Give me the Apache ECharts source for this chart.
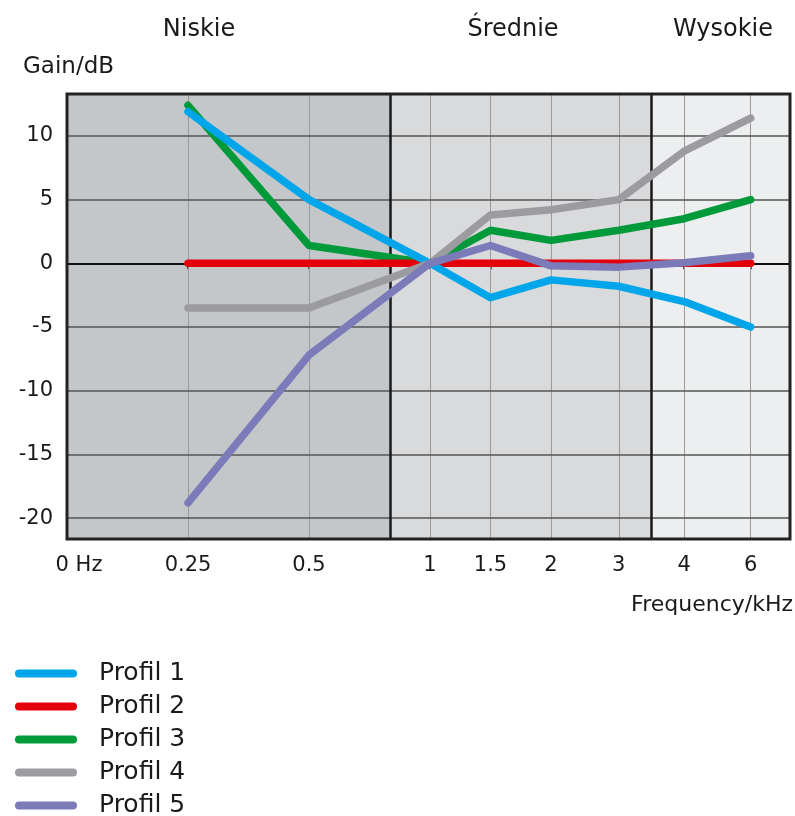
<!DOCTYPE html>
<html>
<head>
<meta charset="utf-8">
<script src="https://cdn.jsdelivr.net/npm/echarts@6/dist/echarts.min.js"></script>
<style>
  html, body { margin: 0; padding: 0; background: #fff; }
  #chart { width: 795px; height: 816px; }
</style>
</head>
<body>
<div id="chart"></div>
<script>
// frequency ticks (kHz) and where they sit on the (non-uniform) x scale
const freqLabels = ["0 Hz", "0.25", "0.5", "1", "1.5", "2", "3", "4", "6"];
const freqPos = [0, 2, 4, 6, 7, 8, 9.12, 10.2, 11.3];
const yTicks = [-20, -15, -10, -5, 0, 5, 10];

// frequency bands
const bandNames = ["Niskie", "Średnie", "Wysokie"];
const bandEdges = [0, 5.34, 9.66, 11.95];
const bandColors = ["#c4c7ca", "#d9dadc", "#eceeef"];

// gain in dB at 0.25 .. 6 kHz
const profil1 = [11.9, 5.0, 0, -2.7, -1.3, -1.8, -3.0, -5.0];
const profil2 = [0, 0, 0, 0, 0, 0, 0, 0];
const profil3 = [12.4, 1.4, 0, 2.6, 1.8, 2.6, 3.5, 5.0];
const profil4 = [-3.5, -3.5, 0, 3.8, 4.2, 5.0, 8.8, 11.4];
const profil5 = [-18.8, -7.2, 0, 1.4, -0.2, -0.3, 0.05, 0.6];

const profiles = [
  { name: "Profil 1", data: profil1, color: "#00a6e9", z: 5 },
  { name: "Profil 2", data: profil2, color: "#e3000b", z: 4 },
  { name: "Profil 3", data: profil3, color: "#009a3b", z: 3 },
  { name: "Profil 4", data: profil4, color: "#9c9b9f", z: 6 },
  { name: "Profil 5", data: profil5, color: "#7b7bb9", z: 7 }
];

const font = "DejaVu Sans";
const txt = "#1a1a1a";
const xPts = freqPos.slice(1);

const chart = echarts.init(document.getElementById("chart"));

const bgSeries = {
  name: "bg",
  type: "line",
  data: [],
  silent: true,
  z: 1,
  markArea: {
    silent: true,
    z: 0,
    data: bandColors.map((c, i) => [
      { xAxis: bandEdges[i], yAxis: -21.64, itemStyle: { color: c } },
      { xAxis: bandEdges[i + 1], yAxis: 13.29 }
    ])
  },
  markLine: {
    silent: true,
    z: 1,
    symbol: "none",
    label: { show: false },
    data: [
      ...xPts.map(p => ({ xAxis: p, lineStyle: { color: "#9a9a9a", width: 1, type: "solid" } })),
      ...yTicks.map(v => ({
        yAxis: v,
        lineStyle: { color: v === 0 ? "#111" : "#555", width: v === 0 ? 2 : 1.5, type: "solid" }
      })),
      ...bandEdges.slice(1, 3).map(e => ({ xAxis: e, lineStyle: { color: "#1a1a1a", width: 2.5, type: "solid" } }))
    ]
  }
};

const option = {
  backgroundColor: "#fff",
  animation: false,
  grid: {
    left: 67, top: 94, right: 5, bottom: 277,
    show: true, borderColor: "#222", borderWidth: 3,
    backgroundColor: "transparent", z: 8
  },
  xAxis: {
    type: "value",
    min: 0,
    max: 11.95,
    splitLine: { show: false },
    axisLine: { show: false },
    axisTick: {
      show: true, customValues: xPts, length: 6, inside: false,
      lineStyle: { color: "#222", width: 1.5 }
    },
    axisLabel: {
      customValues: freqPos,
      margin: 16,
      color: txt,
      fontFamily: font,
      fontSize: 21,
      formatter: v => {
        const i = freqPos.indexOf(v);
        if (i === 0) return "{z|" + freqLabels[0] + "}";
        return i >= 0 ? freqLabels[i] : "";
      },
      rich: { z: { fontFamily: font, fontSize: 21, color: txt, padding: [0, 0, 0, 24] } }
    }
  },
  yAxis: {
    type: "value",
    min: -21.64,
    max: 13.29,
    splitLine: { show: false },
    axisLine: { show: false },
    axisTick: { show: false },
    axisLabel: {
      customValues: yTicks,
      margin: 14,
      color: txt,
      fontFamily: font,
      fontSize: 21
    }
  },
  legend: {
    data: profiles.map(p => p.name),
    orient: "vertical",
    left: 15,
    top: 661,
    height: 200,
    padding: 0,
    itemWidth: 62,
    itemHeight: 8,
    itemGap: 8,
    icon: "path://M4,0 H58 A4,4 0 0 1 58,8 H4 A4,4 0 0 1 4,0 Z",
    textStyle: { fontFamily: font, fontSize: 25, color: txt, lineHeight: 24, padding: [0, 0, 0, 17] }
  },
  graphic: [
    ...bandNames.map((n, i) => ({
      type: "text",
      x: [199, 513, 723][i],
      y: 30,
      style: { text: n, fill: txt, font: "24px '" + font + "'", textAlign: "center", textVerticalAlign: "middle" }
    })),
    {
      type: "text", x: 23, y: 67,
      style: { text: "Gain/dB", fill: txt, font: "23px '" + font + "'", textAlign: "left", textVerticalAlign: "middle" }
    },
    {
      type: "text", x: 793, y: 605,
      style: { text: "Frequency/kHz", fill: txt, font: "22px '" + font + "'", textAlign: "right", textVerticalAlign: "middle" }
    }
  ],
  series: [bgSeries].concat(profiles.map(p => ({
    name: p.name,
    type: "line",
    color: p.color,
    z: p.z,
    symbol: "none",
    silent: true,
    lineStyle: { width: 7.5, cap: "round", join: "round", color: p.color },
    data: p.data.map((v, i) => [xPts[i], v])
  })))
};

chart.setOption(option);
</script>
</body>
</html>
